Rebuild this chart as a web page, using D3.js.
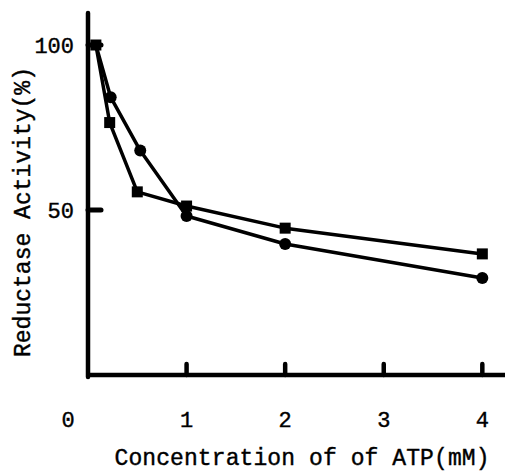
<!DOCTYPE html>
<html><head><meta charset="utf-8">
<script src="https://cdn.jsdelivr.net/npm/d3@7"></script>
<style>html,body{margin:0;padding:0;background:#fff;}svg{display:block;}</style>
</head><body>
<script>
// Data
const circleX = [0.08, 0.23, 0.53, 1, 2, 4];
const circleY = [100, 84.2, 68, 48.2, 39.7, 29.4];
const squareX = [0.08, 0.22, 0.50, 1, 2, 4];
const squareY = [100, 76.5, 55.5, 51.2, 44.5, 36.7];
const xTicks = [0, 1, 2, 3, 4];
const xTickLabels = ["0", "1", "2", "3", "4"];
const yTicks = [50, 100];
const yTickLabels = ["50", "100"];
const xTitle = "Concentration of of ATP(mM)";
const yTitle = "Reductase Activity(%)";

const W = 505, H = 471;
const svg = d3.select("body").append("svg").attr("width", W).attr("height", H);
const x = d3.scaleLinear().domain([0, 4.23]).range([88, 505]);
const y = d3.scaleLinear().domain([0, 109.7]).range([375, 13]);
const font = "'Liberation Mono', 'DejaVu Sans Mono', monospace";
const ink = "#000";

// axes lines
svg.append("line").attr("x1", x(0)).attr("x2", x(0)).attr("y1", y(109.7)).attr("y2", y(0) + 2)
  .attr("stroke", ink).attr("stroke-width", 4.5).attr("stroke-linecap", "round");
svg.append("line").attr("x1", x(0) - 2).attr("x2", W).attr("y1", y(0)).attr("y2", y(0))
  .attr("stroke", ink).attr("stroke-width", 4.5);

// ticks (inward)
svg.selectAll(".xt").data(xTicks.filter(d => d > 0)).enter().append("line")
  .attr("x1", d => x(d)).attr("x2", d => x(d)).attr("y1", y(0)).attr("y2", y(0) - 11)
  .attr("stroke", ink).attr("stroke-width", 4.5).attr("stroke-linecap", "round");
svg.selectAll(".yt").data(yTicks).enter().append("line")
  .attr("x1", x(0)).attr("x2", x(0) + 13).attr("y1", d => y(d)).attr("y2", d => y(d))
  .attr("stroke", ink).attr("stroke-width", 5).attr("stroke-linecap", "round");

// tick labels
svg.selectAll(".xl").data(xTicks).enter().append("text")
  .attr("x", (d, i) => d === 0 ? x(d) - 20 : x(d)).attr("y", 427)
  .attr("text-anchor", "middle").attr("font-family", font).attr("font-size", 22)
  .attr("fill", ink).attr("stroke", ink).attr("stroke-width", 0.4)
  .text((d, i) => xTickLabels[i]);
svg.selectAll(".yl").data(yTicks).enter().append("text")
  .attr("x", 74).attr("y", d => y(d) + 7.5)
  .attr("text-anchor", "end").attr("font-family", font).attr("font-size", 22)
  .attr("fill", ink).attr("stroke", ink).attr("stroke-width", 0.4)
  .text((d, i) => yTickLabels[i]);

// titles
svg.append("text").attr("x", 302).attr("y", 465).attr("text-anchor", "middle")
  .attr("font-family", font).attr("font-size", 23).attr("fill", ink)
  .attr("stroke", ink).attr("stroke-width", 0.4)
  .attr("textLength", 375).attr("lengthAdjust", "spacing").text(xTitle);
svg.append("text").attr("transform", "translate(30,212) rotate(-90)").attr("text-anchor", "middle")
  .attr("font-family", font).attr("font-size", 23).attr("fill", ink)
  .attr("stroke", ink).attr("stroke-width", 0.4)
  .attr("textLength", 290).attr("lengthAdjust", "spacing").text(yTitle);

// series
const line = d3.line().x(d => x(d[0])).y(d => y(d[1]));
const circ = circleX.map((v, i) => [v, circleY[i]]);
const sq = squareX.map((v, i) => [v, squareY[i]]);
[circ, sq].forEach(s => svg.append("path").attr("d", line(s)).attr("fill", "none")
  .attr("stroke", ink).attr("stroke-width", 3.5).attr("stroke-linejoin", "round"));

svg.selectAll(".c").data(circ.slice(1)).enter().append("circle")
  .attr("cx", d => x(d[0])).attr("cy", d => y(d[1])).attr("r", 6).attr("fill", ink);
const s = 11;
svg.selectAll(".s").data(sq).enter().append("rect")
  .attr("x", d => x(d[0]) - s / 2).attr("y", d => y(d[1]) - s / 2)
  .attr("width", s).attr("height", s).attr("fill", ink);
</script>
</body></html>
